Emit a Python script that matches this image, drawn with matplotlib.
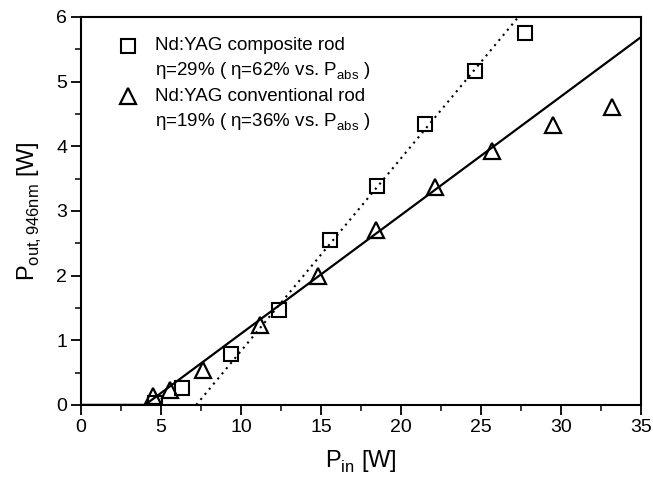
import matplotlib
matplotlib.use("Agg")
import matplotlib.pyplot as plt
import numpy as np

try:
    import matplotlib._mathtext as _mt
    _mt.FontConstantsBase.sub1 = 0.45
    _mt.FontConstantsBase.sub2 = 0.6
except Exception:
    pass

plt.rcParams['font.family'] = ['Liberation Sans', 'DejaVu Sans']
plt.rcParams['mathtext.fontset'] = 'custom'
plt.rcParams['mathtext.rm'] = 'Liberation Sans'
plt.rcParams['mathtext.it'] = 'Liberation Sans'

# composite rod (squares)
comp_pin = [4.6, 6.3, 9.36, 12.4, 15.56, 18.5, 21.5, 24.6, 27.75]
comp_pout = [0.03, 0.26, 0.78, 1.46, 2.55, 3.38, 4.34, 5.17, 5.75]
# conventional rod (triangles)
conv_pin = [4.5, 5.56, 7.6, 11.2, 14.8, 18.44, 22.1, 25.7, 29.5, 33.2]
conv_pout = [0.13, 0.23, 0.54, 1.24, 2.0, 2.71, 3.37, 3.92, 4.33, 4.61]
# linear fits
comp_fit_x = [7.2, 27.33]
comp_fit_y = [0.0, 6.0]
conv_fit_x = [0.0, 4.0, 35.0]
conv_fit_y = [0.0, 0.0, 5.69]

legend_lines = [
    "Nd:YAG composite rod",
    "η=29% ( η=62% vs. P$_{\\rm abs}$ )",
    "Nd:YAG conventional rod",
    "η=19% ( η=36% vs. P$_{\\rm abs}$ )",
]

fig = plt.figure(figsize=(6.53, 4.82), dpi=100)
ax = fig.add_axes([0.124, 0.160, 0.858, 0.805])

ax.plot(comp_fit_x, comp_fit_y, color='black', linestyle=(0, (1, 2.2)), linewidth=1.5, zorder=2)
ax.plot(conv_fit_x, conv_fit_y, color='black', linestyle='-', linewidth=1.6, zorder=2)

mk_sq = dict(linestyle='none', marker='s', markersize=10.5, markerfacecolor='none',
             markeredgecolor='black', markeredgewidth=1.5, zorder=3)
mk_tr = dict(linestyle='none', marker='^', markersize=12, markerfacecolor='none',
             markeredgecolor='black', markeredgewidth=1.6, zorder=3)
ax.plot(comp_pin, comp_pout, **mk_sq)
ax.plot(conv_pin, conv_pout, **mk_tr)

# manual legend
ys = [0.925, 0.861, 0.796, 0.729]
ax.plot([0.084], [ys[0]], transform=ax.transAxes, clip_on=False, **mk_sq)
ax.plot([0.084], [ys[2]], transform=ax.transAxes, clip_on=False, **mk_tr)
for y, t in zip(ys, legend_lines):
    ax.text(0.132, y, t, transform=ax.transAxes, fontsize=13.5, va='center', ha='left')

ax.set_xlim(0, 35)
ax.set_ylim(0, 6)
ax.set_xticks(np.arange(0, 36, 5))
ax.set_xticks(np.arange(0, 35.1, 2.5), minor=True)
ax.set_yticks(np.arange(0, 7, 1))
ax.set_yticks(np.arange(0, 6.1, 0.5), minor=True)
ax.tick_params(axis='both', which='major', direction='out', length=7, width=1.3, labelsize=14, pad=3)
ax.tick_params(axis='both', which='minor', direction='out', length=4, width=1.1)
for s in ax.spines.values():
    s.set_linewidth(1.5)

ax.set_xlabel(r"P$_{\rm in}$ [W]", fontsize=17, labelpad=9)
ax.set_ylabel(r"P$_{\rm out,946nm}$ [W]", fontsize=17, labelpad=9)

fig.savefig("out.png", dpi=100)
